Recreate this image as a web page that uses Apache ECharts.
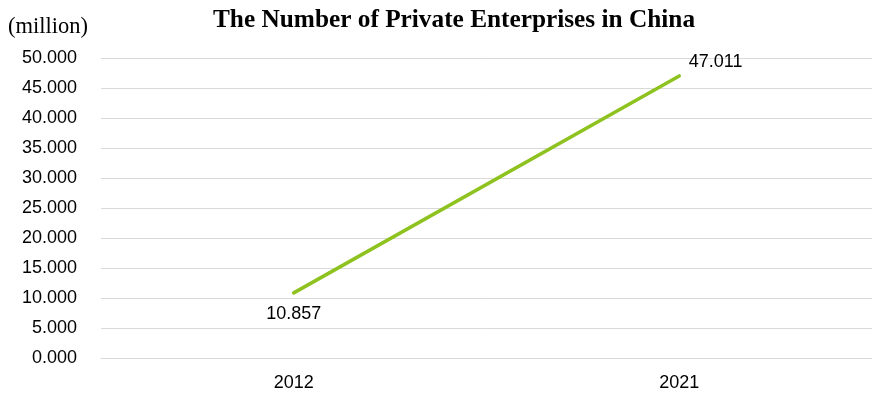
<!DOCTYPE html>
<html>
<head>
<meta charset="utf-8">
<script src="https://cdn.jsdelivr.net/npm/echarts@6/dist/echarts.min.js"></script>
<style>
  html, body { margin: 0; padding: 0; background: #ffffff; }
  #chart { width: 872px; height: 393px; }
</style>
</head>
<body>
<div id="chart"></div>
<script>
// Private enterprises in China (million)
const years = ['2012', '2021'];
const enterprises = [10.857, 47.011];
const yMin = 0;
const yMax = 50;
const yStep = 5;

const chart = echarts.init(document.getElementById('chart'), null, { renderer: 'canvas' });

const labelFont = { fontFamily: 'Liberation Sans, Arial, sans-serif', fontSize: 18, color: '#000000' };

chart.setOption({
  animation: false,
  backgroundColor: '#ffffff',
  title: {
    text: 'The Number of Private Enterprises in China',
    left: 208,
    top: 3,
    textStyle: {
      fontFamily: 'Liberation Serif, Times New Roman, serif',
      fontWeight: 'bold',
      fontSize: 25.3,
      color: '#000000'
    }
  },
  graphic: [{
    type: 'text',
    left: 8,
    top: 16,
    style: {
      text: '(million)',
      font: '22.5px "Liberation Serif", "Times New Roman", serif',
      fill: '#000000'
    }
  }],
  grid: { left: 101, right: -2, top: 58, bottom: 35 },
  xAxis: {
    type: 'category',
    data: years,
    boundaryGap: true,
    axisLine: { show: true, lineStyle: { color: '#d9d9d9', width: 1 } },
    axisTick: { show: false },
    axisLabel: Object.assign({ margin: 16 }, labelFont)
  },
  yAxis: {
    type: 'value',
    min: yMin,
    max: yMax,
    interval: yStep,
    axisLine: { show: false },
    axisTick: { show: false },
    splitLine: { lineStyle: { color: '#d9d9d9', width: 1 } },
    axisLabel: Object.assign({
      margin: 24,
      formatter: v => v.toFixed(3)
    }, labelFont)
  },
  series: [{
    type: 'line',
    data: enterprises.map((v, i) => ({
      value: v,
      label: i === 0
        ? { show: true, position: 'bottom', distance: 12 }
        : { show: true, position: 'right', distance: 9, offset: [0, -14] }
    })),
    symbol: 'circle',
    symbolSize: 1,
    showSymbol: true,
    itemStyle: { color: 'rgba(0,0,0,0)' },
    lineStyle: { color: '#8dc21f', width: 3.5, cap: 'round' },
    label: Object.assign({ show: true, formatter: p => Number(p.value).toFixed(3) }, labelFont)
  }]
});
</script>
</body>
</html>
